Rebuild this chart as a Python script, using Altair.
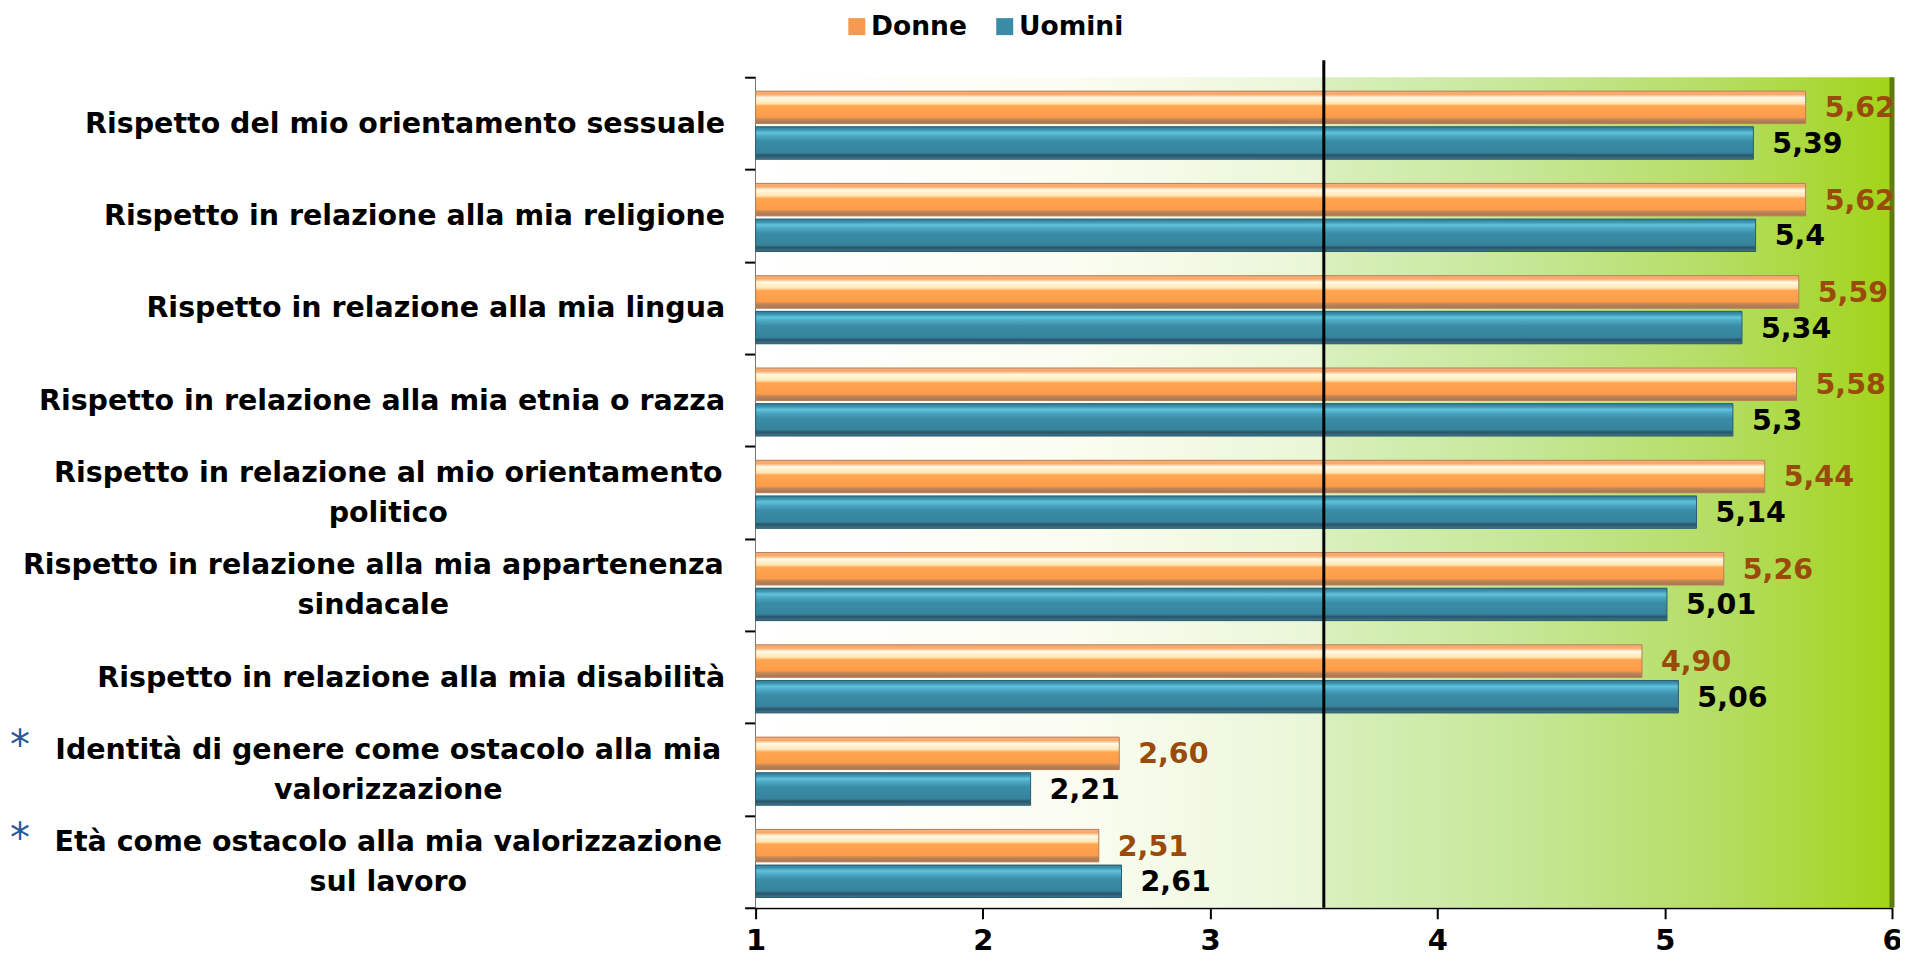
import json
import altair as alt
import pandas as pd

# ---------------- data ----------------
categories = [
    "Rispetto del mio orientamento sessuale",
    "Rispetto in relazione alla mia religione",
    "Rispetto in relazione alla mia lingua",
    "Rispetto in relazione alla mia etnia o razza",
    "Rispetto in relazione al mio orientamento|politico",
    "Rispetto in relazione alla mia appartenenza|sindacale",
    "Rispetto in relazione alla mia disabilità",
    "Identità di genere come ostacolo alla mia|valorizzazione",
    "Età come ostacolo alla mia valorizzazione|sul lavoro",
]
donne = [5.62, 5.62, 5.59, 5.58, 5.44, 5.26, 4.90, 2.60, 2.51]
uomini = [5.39, 5.40, 5.34, 5.30, 5.14, 5.01, 5.06, 2.21, 2.61]
series = ["Donne", "Uomini"]
starred = [categories[7], categories[8]]
threshold = [3.5]
x_ticks = [1, 2, 3, 4, 5, 6]
x_min = 1
bg_start = [1, 3.5]
bg_end = [3.5, 6]
x_max = [6]

rows = []
for c, d, u in zip(categories, donne, uomini):
    rows.append({"cat": c, "series": "Donne", "value": d, "base": x_min})
    rows.append({"cat": c, "series": "Uomini", "value": u, "base": x_min})
df = pd.DataFrame(rows)
bg_df = pd.DataFrame({"start": bg_start, "end": bg_end, "part": ["left", "right"]})
thr_df = pd.DataFrame({"t": threshold})
max_df = pd.DataFrame({"t": x_max})
star_df = pd.DataFrame({"cat": starred, "mark": ["*"] * len(starred)})

# ---------------- styling ----------------
W, H = 1137, 831
FONT = "DejaVu Sans"

xscale = alt.Scale(domain=[1, 6], nice=False, zero=False)
yscale = alt.Scale(domain=categories, paddingInner=0, paddingOuter=0)
yoff_scale = alt.Scale(domain=series, paddingInner=0.09, paddingOuter=0.34, align=0.575)

xaxis = alt.Axis(
    title=None, values=x_ticks, format="d", grid=False, labelFlush=False,
    domainColor="black", domainWidth=2, tickColor="black", tickWidth=2,
    tickSize=11, labelFont=FONT, labelFontSize=29, labelFontWeight="bold",
    labelColor="black", labelPadding=8,
)

two_line = [c for c in categories if "|" in c]
two_line_js = "[" + ",".join(json.dumps(c, ensure_ascii=False) for c in two_line) + "]"
yaxis = alt.Axis(
    title=None, labelExpr="split(datum.label, '|')", tickBand="extent",
    domainColor="black", domainWidth=2, tickColor="black", tickWidth=2,
    tickSize=11, labelFont=FONT, labelFontSize=28.5, labelFontWeight="bold",
    labelColor="black", labelLimit=0, labelLineHeight=40, labelBaseline="middle",
    labelAlign={"condition": {"test": f"indexof({two_line_js}, datum.value) >= 0", "value": "center"},
                "value": "right"},
    labelOffset={"condition": {"test": f"indexof({two_line_js}, datum.value) >= 0", "value": -20},
                 "value": 0},
    labelPadding={"condition": [
        {"test": f"datum.value === {json.dumps(categories[5], ensure_ascii=False)}", "value": 372},
        {"test": f"indexof({two_line_js}, datum.value) >= 0", "value": 357},
    ], "value": 20},
)

X = alt.X("value:Q", scale=xscale, axis=xaxis)
X2 = alt.X2("base:Q")
Y = alt.Y("cat:N", scale=yscale, sort=categories, axis=yaxis)
YO = alt.YOffset("series:N", scale=yoff_scale, sort=series)

orange_grad = alt.LinearGradient(
    gradient="linear", x1=0, x2=0, y1=0, y2=1,
    stops=[
        alt.GradientStop(color="#f4b080", offset=0),
        alt.GradientStop(color="#f9a866", offset=0.1),
        alt.GradientStop(color="#fffae6", offset=0.2),
        alt.GradientStop(color="#ffe6b4", offset=0.38),
        alt.GradientStop(color="#ffa550", offset=0.46),
        alt.GradientStop(color="#fd9c4a", offset=0.8),
        alt.GradientStop(color="#c08658", offset=0.87),
        alt.GradientStop(color="#a87252", offset=1),
    ],
)
blue_grad = alt.LinearGradient(
    gradient="linear", x1=0, x2=0, y1=0, y2=1,
    stops=[
        alt.GradientStop(color="#2f7890", offset=0),
        alt.GradientStop(color="#3f98b4", offset=0.1),
        alt.GradientStop(color="#62c2dc", offset=0.18),
        alt.GradientStop(color="#4aa6c0", offset=0.3),
        alt.GradientStop(color="#3a8ca6", offset=0.45),
        alt.GradientStop(color="#36849c", offset=0.8),
        alt.GradientStop(color="#28546a", offset=0.88),
        alt.GradientStop(color="#44788a", offset=1),
    ],
)
bg_left = alt.LinearGradient(
    gradient="linear", x1=0, x2=1, y1=0, y2=0,
    stops=[
        alt.GradientStop(color="#ffffff", offset=0),
        alt.GradientStop(color="#fbfdf2", offset=0.55),
        alt.GradientStop(color="#e9f6d6", offset=1),
    ],
)
bg_right = alt.LinearGradient(
    gradient="linear", x1=0, x2=1, y1=0, y2=0,
    stops=[
        alt.GradientStop(color="#d8f0bd", offset=0),
        alt.GradientStop(color="#c6e797", offset=0.35),
        alt.GradientStop(color="#b4dd62", offset=0.7),
        alt.GradientStop(color="#a2d418", offset=1),
    ],
)

# ---------------- layers ----------------
bgx = alt.X("start:Q", scale=xscale, axis=xaxis)
bg1 = alt.Chart(bg_df).transform_filter(alt.datum.part == "left").mark_rect(fill=bg_left).encode(
    x=bgx, x2="end:Q")
bg2 = alt.Chart(bg_df).transform_filter(alt.datum.part == "right").mark_rect(fill=bg_right).encode(
    x=bgx, x2="end:Q")

edge = alt.Chart(max_df).mark_rule(color="#5d7c12", strokeWidth=5).encode(
    x=alt.X("t:Q", scale=xscale, axis=xaxis), y=alt.value(0), y2=alt.value(H))

base = alt.Chart(df).mark_bar().encode(
    x=X, x2=X2, y=Y, yOffset=YO,
    color=alt.Color(
        "series:N",
        scale=alt.Scale(domain=series, range=["#f59a4e", "#3a8ca6"]),
        legend=alt.Legend(
            title=None, orient="none", legendX=88, legendY=-64, direction="horizontal",
            columns=2, symbolType="square", symbolSize=289, symbolStrokeWidth=0,
            labelFont=FONT, labelFontSize=26.5, labelFontWeight="bold", labelColor="black",
            labelOffset=1, columnPadding=24, padding=0, symbolOpacity=1,
        ),
    ),
)
bars_d = alt.Chart(df).transform_filter(alt.datum.series == "Donne").mark_bar(
    fill=orange_grad, stroke="#b98056", strokeWidth=1).encode(x=X, x2=X2, y=Y, yOffset=YO)
bars_u = alt.Chart(df).transform_filter(alt.datum.series == "Uomini").mark_bar(
    fill=blue_grad, stroke="#2b5f70", strokeWidth=1).encode(x=X, x2=X2, y=Y, yOffset=YO)

rule = alt.Chart(thr_df).mark_rule(color="black", strokeWidth=3).encode(
    x=alt.X("t:Q", scale=xscale, axis=xaxis), y=alt.value(-17), y2=alt.value(H))

txt_d = alt.Chart(df).transform_filter(alt.datum.series == "Donne").transform_calculate(
    lab="replace(format(datum.value, '.2f'), '.', ',')"
).mark_text(align="left", baseline="middle", dx=19, dy=1, font=FONT, fontSize=28.5,
            fontWeight="bold", color="#9a4a0a").encode(x=X, y=Y, yOffset=YO, text="lab:N")
txt_u = alt.Chart(df).transform_filter(alt.datum.series == "Uomini").transform_calculate(
    lab="replace(toString(datum.value), '.', ',')"
).mark_text(align="left", baseline="middle", dx=19, dy=1, font=FONT, fontSize=28.5,
            fontWeight="bold", color="black").encode(x=X, y=Y, yOffset=YO, text="lab:N")

stars = alt.Chart(star_df).mark_text(
    align="center", baseline="middle", dy=-22, font=FONT, fontSize=40, color="#2a5a96"
).encode(y=Y, x=alt.value(-736), text="mark:N")

chart = alt.layer(bg1, bg2, edge, base, bars_d, bars_u, rule, txt_d, txt_u, stars).properties(
    width=W, height=H,
    autosize=alt.AutoSizeParams(type="none"),
    padding={"left": 748, "top": 69, "right": 8, "bottom": 54},
).configure_view(stroke=None)

chart.save("out.html", embed_options={"renderer": "svg", "actions": False})
